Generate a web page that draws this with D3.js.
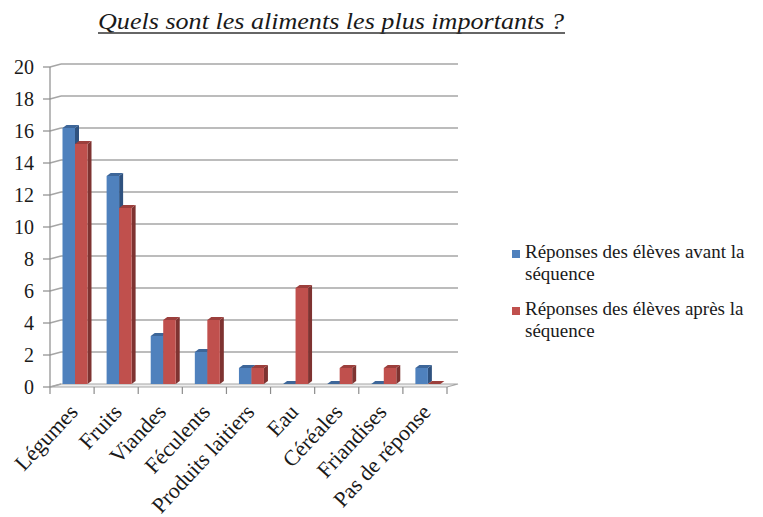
<!DOCTYPE html>
<meta charset="utf-8">
<body style="margin:0">
<script src="https://cdnjs.cloudflare.com/ajax/libs/d3/7.8.5/d3.min.js"></script>
<script>

// data
var categories = ["Légumes", "Fruits", "Viandes", "Féculents", "Produits laitiers", "Eau", "Céréales", "Friandises", "Pas de réponse"];
var avant = [16, 13, 3, 2, 1, 0, 0, 0, 1];
var apres = [15, 11, 4, 4, 1, 6, 1, 1, 0];
var yTicks = [0, 2, 4, 6, 8, 10, 12, 14, 16, 18, 20];
var legendLines = [["Réponses des élèves avant la", "séquence"], ["Réponses des élèves après la", "séquence"]];

var width = 763, height = 517;
var svg = d3.select("body").append("svg")
    .attr("width", width)
    .attr("height", height);

var serif = "'Liberation Serif'";

// fake 3d: front plane and back wall offset
var depth = {dx: 11, dy: -3};
var x = d3.scaleBand().domain(categories).range([50, 447]);
var yFront = d3.scaleLinear().domain([0, 20]).range([387, 67]);
var yBack = d3.scaleLinear().domain([0, 20]).range([384, 64]);

var colors = [
    {front: "#4f81bd", side: "#2f527f", top: "#3d6699"},
    {front: "#c0504d", side: "#7e3331", top: "#9c3f3c"}
];

// title
svg.append("text")
    .attr("x", 98)
    .attr("y", 29)
    .style("font-family", serif)
    .style("font-size", "24px")
    .style("font-style", "italic")
    .attr("fill", "#1a1a1a")
    .attr("textLength", 466)
    .attr("lengthAdjust", "spacingAndGlyphs")
    .text("Quels sont les aliments les plus importants ?");
svg.append("line")
    .attr("x1", 98).attr("x2", 565)
    .attr("y1", 33).attr("y2", 33)
    .attr("stroke", "#333").attr("stroke-width", 1.4);

// floor
var x0 = x.range()[0], x1 = x.range()[1];
svg.append("path")
    .attr("d", "M" + x0 + "," + yFront(0) + "L" + x1 + "," + yFront(0) +
        "L" + (x1 + depth.dx) + "," + yBack(0) + "L" + (x0 + depth.dx) + "," + yBack(0) + "Z")
    .attr("fill", "#eeeeee")
    .attr("stroke", "#a6a6a6")
    .attr("stroke-width", 1.2);

// back wall gridlines + diagonals on the side wall
var grid = svg.append("g").attr("stroke", "#a6a6a6").attr("stroke-width", 1.6);
grid.selectAll(".h").data(yTicks.filter(function(d) { return d > 0; }))
    .enter().append("line")
    .attr("x1", x0 + depth.dx).attr("x2", x1 + depth.dx)
    .attr("y1", function(d) { return yBack(d); })
    .attr("y2", function(d) { return yBack(d); });
grid.selectAll(".d").data(yTicks)
    .enter().append("line")
    .attr("x1", x0).attr("x2", x0 + depth.dx)
    .attr("y1", function(d) { return yFront(d); })
    .attr("y2", function(d) { return yBack(d); });

// axes
var axis = svg.append("g").attr("stroke", "#8c8c8c").attr("stroke-width", 1.2);
axis.append("line")
    .attr("x1", x0).attr("x2", x0)
    .attr("y1", yFront(20)).attr("y2", yFront(0));
axis.selectAll(".yt").data(yTicks)
    .enter().append("line")
    .attr("x1", x0 - 7).attr("x2", x0)
    .attr("y1", function(d) { return yFront(d); })
    .attr("y2", function(d) { return yFront(d); });
axis.selectAll(".xt").data(d3.range(categories.length + 1))
    .enter().append("line")
    .attr("x1", function(i) { return x0 + i * x.step(); })
    .attr("x2", function(i) { return x0 + i * x.step(); })
    .attr("y1", yFront(0)).attr("y2", yFront(0) + 7);

svg.selectAll(".ylab").data(yTicks).enter().append("text")
    .style("font-family", serif)
    .style("font-size", "20px")
    .attr("fill", "#1a1a1a")
    .attr("x", 34)
    .attr("y", function(d) { return yFront(d); })
    .attr("dy", "0.35em")
    .attr("text-anchor", "end")
    .text(function(d) { return d; });

// bars
var barW = 12.5, off = 12.5, bd = {dx: 4, dy: -3};
var bars = [];
categories.forEach(function(c, i) {
    bars.push({cat: c, s: 0, v: avant[i]});
    bars.push({cat: c, s: 1, v: apres[i]});
});

var bar = svg.selectAll(".bar").data(bars)
    .enter().append("g");

function bx(d) { return x(d.cat) + off + d.s * barW; }

bar.append("path")   // side face
    .attr("d", function(d) {
        var l = bx(d) + barW, t = yBack(d.v), b = yBack(0);
        return "M" + l + "," + b + "L" + l + "," + t + "L" + (l + bd.dx) + "," + (t + bd.dy) +
            "L" + (l + bd.dx) + "," + (b + bd.dy) + "Z";
    })
    .attr("fill", function(d) { return colors[d.s].side; });

bar.append("path")   // top face
    .attr("d", function(d) {
        var l = bx(d), t = yBack(d.v);
        return "M" + l + "," + t + "L" + (l + barW) + "," + t + "L" + (l + barW + bd.dx) + "," + (t + bd.dy) +
            "L" + (l + bd.dx) + "," + (t + bd.dy) + "Z";
    })
    .attr("fill", function(d) { return colors[d.s].top; });

bar.append("rect")   // front face
    .attr("x", bx)
    .attr("y", function(d) { return yBack(d.v); })
    .attr("width", barW)
    .attr("height", function(d) { return yBack(0) - yBack(d.v); })
    .attr("fill", function(d) { return colors[d.s].front; });

// category labels
svg.selectAll(".xlab").data(categories).enter().append("text")
    .style("font-family", serif)
    .style("font-size", "22px")
    .attr("fill", "#1a1a1a")
    .attr("text-anchor", "end")
    .attr("transform", function(d) {
        return "translate(" + (x(d) + x.bandwidth() / 2 + 7) + ",413)rotate(-47)";
    })
    .text(function(d) { return d; });

// legend
var legend = svg.append("g").attr("transform", "translate(512,250)");
legendLines.forEach(function(ln, i) {
    var g = legend.append("g").attr("transform", "translate(0," + (i * 57) + ")");
    g.append("rect")
        .attr("width", 8).attr("height", 8)
        .attr("fill", colors[i].front);
    g.selectAll("text").data(ln).enter().append("text")
        .style("font-family", serif)
        .style("font-size", "19px")
        .attr("fill", "#1a1a1a")
        .attr("x", 13)
        .attr("y", function(d, j) { return 8 + j * 22; })
        .text(function(d) { return d; });
});

</script>
</body>
